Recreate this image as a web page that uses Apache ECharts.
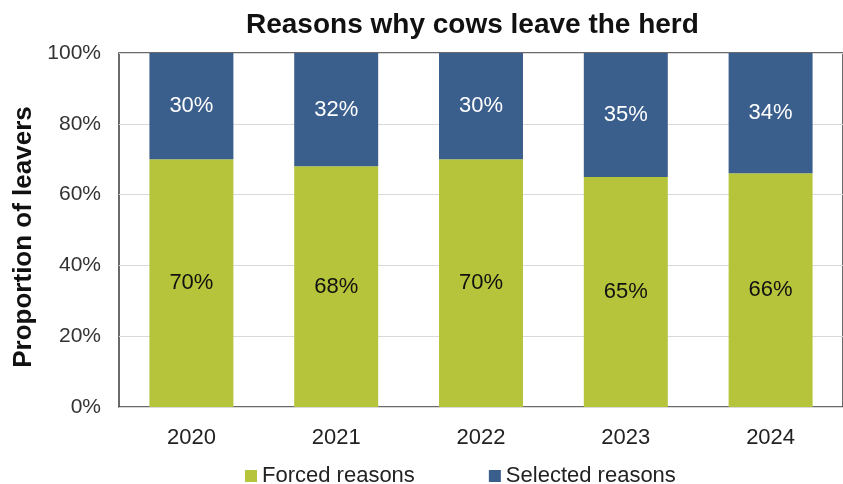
<!DOCTYPE html>
<html>
<head>
<meta charset="utf-8">
<script src="https://cdn.jsdelivr.net/npm/echarts@6/dist/echarts.min.js"></script>
<style>
  html, body { margin: 0; padding: 0; background: #fff; }
  #chart { width: 843px; height: 484px; }
</style>
</head>
<body>
<div id="chart"></div>
<script>
const years = ['2020', '2021', '2022', '2023', '2024']
const forced = [70, 68, 70, 65, 66]
const selected = [30, 32, 30, 35, 34]
const yTicks = [0, 20, 40, 60, 80, 100]

const chart = echarts.init(document.getElementById('chart'))
const font = 'Liberation Sans, Arial, sans-serif'

chart.setOption({
  animation: false,
  title: {
    text: 'Reasons why cows leave the herd',
    left: 246,
    top: 11,
    padding: 0,
    textStyle: { fontFamily: font, fontSize: 28, fontWeight: 'bold', color: '#111' }
  },
  grid: {
    left: 119,
    top: 53,
    width: 728,
    height: 354,
    show: true,
    borderColor: '#3a3a3a',
    borderWidth: 1.5
  },
  legend: {
    top: 460,
    left: 240,
    itemWidth: 12,
    itemHeight: 12,
    itemGap: 74,
    icon: 'rect',
    textStyle: { fontFamily: font, fontSize: 22, color: '#222' },
    data: ['Forced reasons', 'Selected reasons']
  },
  xAxis: {
    type: 'category',
    data: years,
    axisLine: { show: false },
    axisTick: { show: false },
    axisLabel: { fontFamily: font, fontSize: 22, color: '#222', margin: 20 }
  },
  yAxis: {
    type: 'value',
    min: yTicks[0],
    max: yTicks[yTicks.length - 1],
    interval: 20,
    name: 'Proportion of leavers',
    nameLocation: 'middle',
    nameGap: 82,
    nameTextStyle: { fontFamily: font, fontSize: 26, fontWeight: 'bold', color: '#111', padding: [0, 14, 0, 0] },
    axisLine: { show: false },
    axisTick: { show: false },
    axisLabel: { fontFamily: font, fontSize: 21, color: '#333', margin: 18, formatter: '{value}%' },
    splitLine: { lineStyle: { color: '#d9d9d9', width: 1 } }
  },
  series: [
    {
      name: 'Forced reasons',
      type: 'bar',
      stack: 'total',
      barWidth: '58%',
      data: forced,
      itemStyle: { color: '#b5c43a' },
      label: {
        show: true,
        position: 'inside',
        formatter: '{c}%',
        fontFamily: font,
        fontSize: 22,
        color: '#111'
      }
    },
    {
      name: 'Selected reasons',
      type: 'bar',
      stack: 'total',
      data: selected,
      itemStyle: { color: '#3b5f8d' },
      label: {
        show: true,
        position: 'inside',
        formatter: '{c}%',
        fontFamily: font,
        fontSize: 22,
        color: '#fff'
      }
    }
  ]
})
</script>
</body>
</html>
